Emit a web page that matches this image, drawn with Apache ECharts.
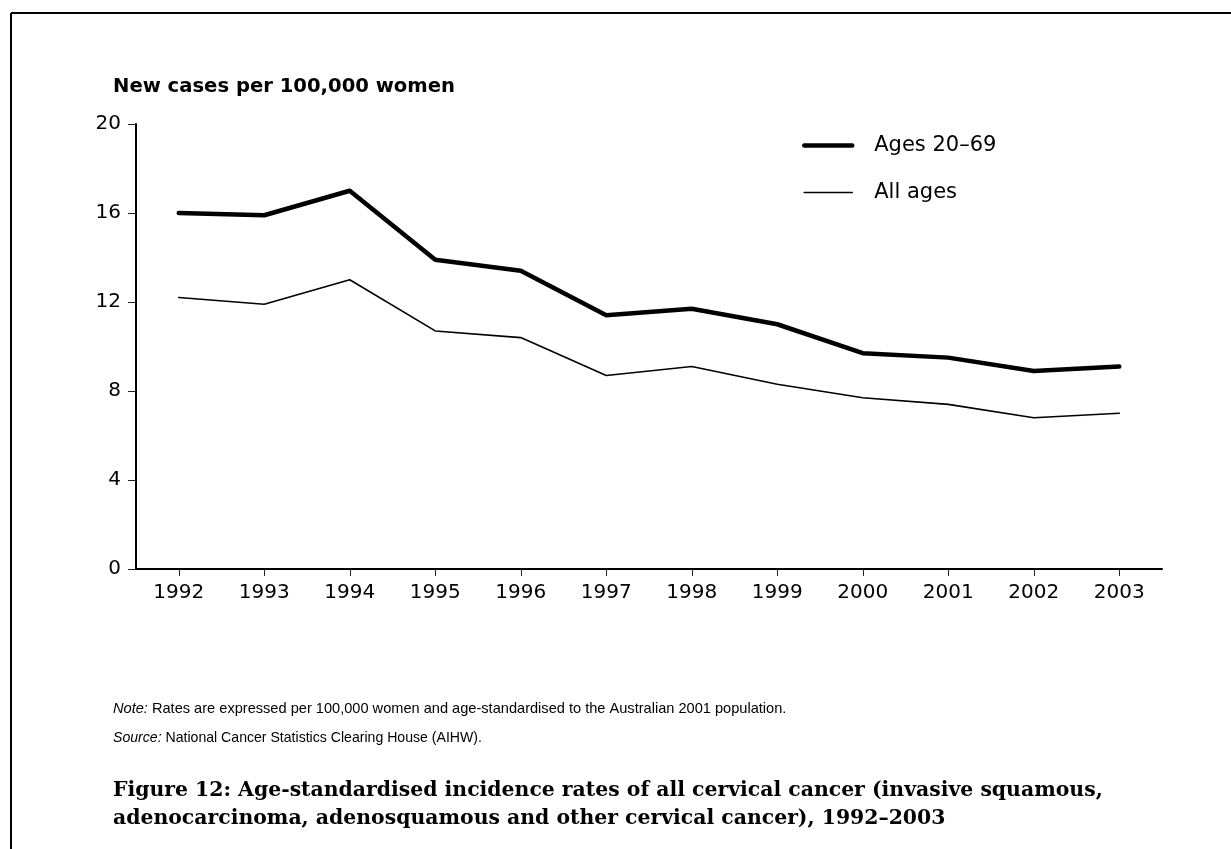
<!DOCTYPE html>
<html>
<head>
<meta charset="utf-8">
<script src="https://cdn.jsdelivr.net/npm/echarts@6/dist/echarts.min.js"></script>
<style>
html,body{margin:0;padding:0;background:#fff;}
#chart{width:1231px;height:849px;}
</style>
</head>
<body>
<div id="chart"></div>
<script>
const years = ['1992','1993','1994','1995','1996','1997','1998','1999','2000','2001','2002','2003'];
const ages2069 = [16.0, 15.9, 17.0, 13.9, 13.4, 11.4, 11.7, 11.0, 9.7, 9.5, 8.9, 9.1];
const allAges = [12.2, 11.9, 13.0, 10.7, 10.4, 8.7, 9.1, 8.3, 7.7, 7.4, 6.8, 7.0];
const seriesNames = ['Ages 20\u201369', 'All ages'];
const yTitle = 'New cases per 100,000 women';
const noteText = 'Rates are expressed per 100,000 women and age-standardised to the Australian 2001 population.';
const sourceText = 'National Cancer Statistics Clearing House (AIHW).';
const captionLines = [
  'Figure 12: Age-standardised incidence rates of all cervical cancer (invasive squamous,',
  'adenocarcinoma, adenosquamous and other cervical cancer), 1992\u20132003'
];

const sans = '"DejaVu Sans", sans-serif';
const lib = '"Liberation Sans", Arial, sans-serif';
const chart = echarts.init(document.getElementById('chart'), null, {renderer: 'canvas'});
chart.setOption({
  animation: false,
  backgroundColor: '#fff',
  grid: {left: 136, right: 69, top: 124, bottom: 280, containLabel: false},
  legend: {
    orient: 'vertical',
    left: 802, top: 135, padding: 0,
    itemWidth: 48, itemHeight: 24, itemGap: 26,
    itemStyle: {opacity: 0},
    textStyle: {fontFamily: sans, fontSize: 21, color: '#000', padding: [0, 0, 0, 17]},
    data: [
      {name: seriesNames[0], lineStyle: {width: 4.5, color: '#000', cap: 'round'}},
      {name: seriesNames[1], lineStyle: {width: 1.6, color: '#000'}}
    ]
  },
  xAxis: {
    type: 'category',
    data: years,
    boundaryGap: true,
    axisLine: {show: true, lineStyle: {color: '#000', width: 2}},
    axisTick: {show: true, alignWithLabel: true, length: 7, lineStyle: {color: '#222', width: 1}},
    axisLabel: {fontFamily: sans, fontSize: 20, color: '#000', margin: 14},
    splitLine: {show: false}
  },
  yAxis: {
    type: 'value',
    min: 0, max: 20, interval: 4,
    axisLine: {show: true, lineStyle: {color: '#000', width: 2}},
    axisTick: {show: true, length: 8, lineStyle: {color: '#222', width: 1}},
    axisLabel: {fontFamily: sans, fontSize: 20, color: '#000', margin: 15},
    splitLine: {show: false}
  },
  series: [
    {
      name: seriesNames[0], type: 'line', data: ages2069,
      symbol: 'none', showSymbol: false,
      lineStyle: {color: '#000', width: 4.5, cap: 'round', join: 'round'},
      itemStyle: {color: '#000'}
    },
    {
      name: seriesNames[1], type: 'line', data: allAges,
      symbol: 'none', showSymbol: false,
      lineStyle: {color: '#000', width: 1.6, cap: 'round', join: 'round'},
      itemStyle: {color: '#000'}
    }
  ],
  graphic: [
    {type: 'line', shape: {x1: 11, y1: 13, x2: 1231, y2: 13}, style: {stroke: '#000', lineWidth: 2}, silent: true},
    {type: 'line', shape: {x1: 11, y1: 13, x2: 11, y2: 849}, style: {stroke: '#000', lineWidth: 2}, silent: true},
    {type: 'text', left: 113, top: 77, style: {text: yTitle, font: 'bold 19.6px ' + sans, fill: '#000'}},
    {type: 'text', left: 113, top: 701, style: {
      text: '{i|Note:} ' + noteText,
      font: '14.6px ' + lib, fill: '#000',
      rich: {i: {fontStyle: 'italic', fontFamily: lib, fontSize: 14.6, fill: '#000'}}
    }},
    {type: 'text', left: 113, top: 731, style: {
      text: '{i|Source:} ' + sourceText,
      font: '14.1px ' + lib, fill: '#000',
      rich: {i: {fontStyle: 'italic', fontFamily: lib, fontSize: 14.1, fill: '#000'}}
    }},
    {type: 'text', left: 113, top: 781, style: {text: captionLines[0], font: 'bold 20.4px "DejaVu Serif", serif', fill: '#000'}},
    {type: 'text', left: 113, top: 809, style: {text: captionLines[1], font: 'bold 20.4px "DejaVu Serif", serif', fill: '#000'}}
  ]
});
</script>
</body>
</html>
